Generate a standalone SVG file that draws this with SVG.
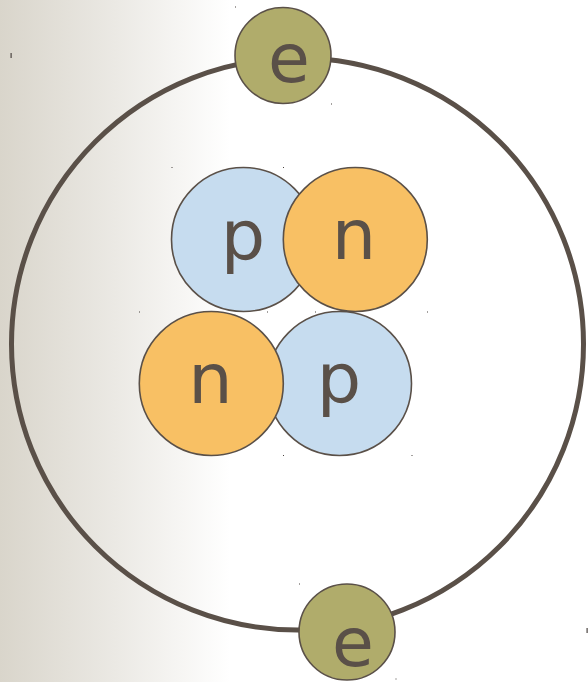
<svg xmlns="http://www.w3.org/2000/svg" width="588" height="682" viewBox="0 0 588 682">
  <defs>
    <linearGradient id="bgFade" x1="0" y1="0" x2="230" y2="0" gradientUnits="userSpaceOnUse">
      <stop offset="0" stop-color="#d9d5cb"/>
      <stop offset="0.5" stop-color="#ebe9e4"/>
      <stop offset="1" stop-color="#ffffff"/>
    </linearGradient>
  </defs>
  <style>
    .orbit { fill: none; stroke: #5a5048; stroke-width: 5; }
    .particle { stroke: #5a5048; stroke-width: 1.6; }
    .proton { fill: #c6dcef; }
    .neutron { fill: #f8c064; }
    .electron { fill: #b0ac6b; }
    .label { font-family: "DejaVu Sans", "Liberation Sans", sans-serif; fill: #5a5048; text-anchor: middle; }
    .nuc { font-size: 70px; }
    .el { font-size: 68px; }
    .tick { fill: #4a4440; }
  </style>

  <!-- background -->
  <rect x="0" y="0" width="588" height="682" fill="#ffffff"/>
  <rect x="0" y="0" width="232" height="682" fill="url(#bgFade)"/>

  <!-- orbit -->
  <g id="connectors">
    <circle id="orbit" class="orbit" cx="297.5" cy="344" r="286"/>
  </g>

  <!-- nucleus: protons first, neutrons on top -->
  <g id="proton-top">
    <circle class="particle proton" cx="243.5" cy="239.5" r="72"/>
    <text class="label nuc" x="243" y="260">p</text>
  </g>
  <g id="proton-bottom">
    <circle class="particle proton" cx="339.5" cy="383.5" r="72"/>
    <text class="label nuc" x="339" y="403">p</text>
  </g>
  <g id="neutron-top">
    <circle class="particle neutron" cx="355.3" cy="239.5" r="72"/>
    <text class="label nuc" x="354" y="259">n</text>
  </g>
  <g id="neutron-bottom">
    <circle class="particle neutron" cx="211.3" cy="383.5" r="72"/>
    <text class="label nuc" x="210.5" y="403">n</text>
  </g>

  <!-- electrons -->
  <g id="electron-top">
    <circle class="particle electron" cx="283" cy="55.5" r="48"/>
    <text class="label el" x="289" y="82">e</text>
  </g>
  <g id="electron-bottom">
    <circle class="particle electron" cx="347" cy="632" r="48"/>
    <text class="label el" x="353" y="666">e</text>
  </g>

  <!-- small corner marks -->
  <g id="marks">
    <rect class="tick" x="10.5" y="53" width="1.2" height="5"/>
    <rect class="tick" x="586.5" y="628" width="1.2" height="5"/>
    <rect class="tick" x="235" y="6.5" width="1" height="1"/>
    <rect class="tick" x="331" y="103.5" width="1" height="1"/>
    <rect class="tick" x="299" y="583.5" width="1" height="1"/>
    <rect class="tick" x="395.5" y="678.5" width="1" height="1"/>
    <rect class="tick" x="171.5" y="167" width="1" height="1"/>
    <rect class="tick" x="283" y="167" width="1" height="1"/>
    <rect class="tick" x="139" y="311.5" width="1" height="1"/>
    <rect class="tick" x="267" y="311.5" width="1" height="1"/>
    <rect class="tick" x="315" y="311.5" width="1" height="1"/>
    <rect class="tick" x="427" y="311.5" width="1" height="1"/>
    <rect class="tick" x="283" y="455" width="1" height="1"/>
    <rect class="tick" x="411.5" y="455" width="1" height="1"/>
  </g>
</svg>
